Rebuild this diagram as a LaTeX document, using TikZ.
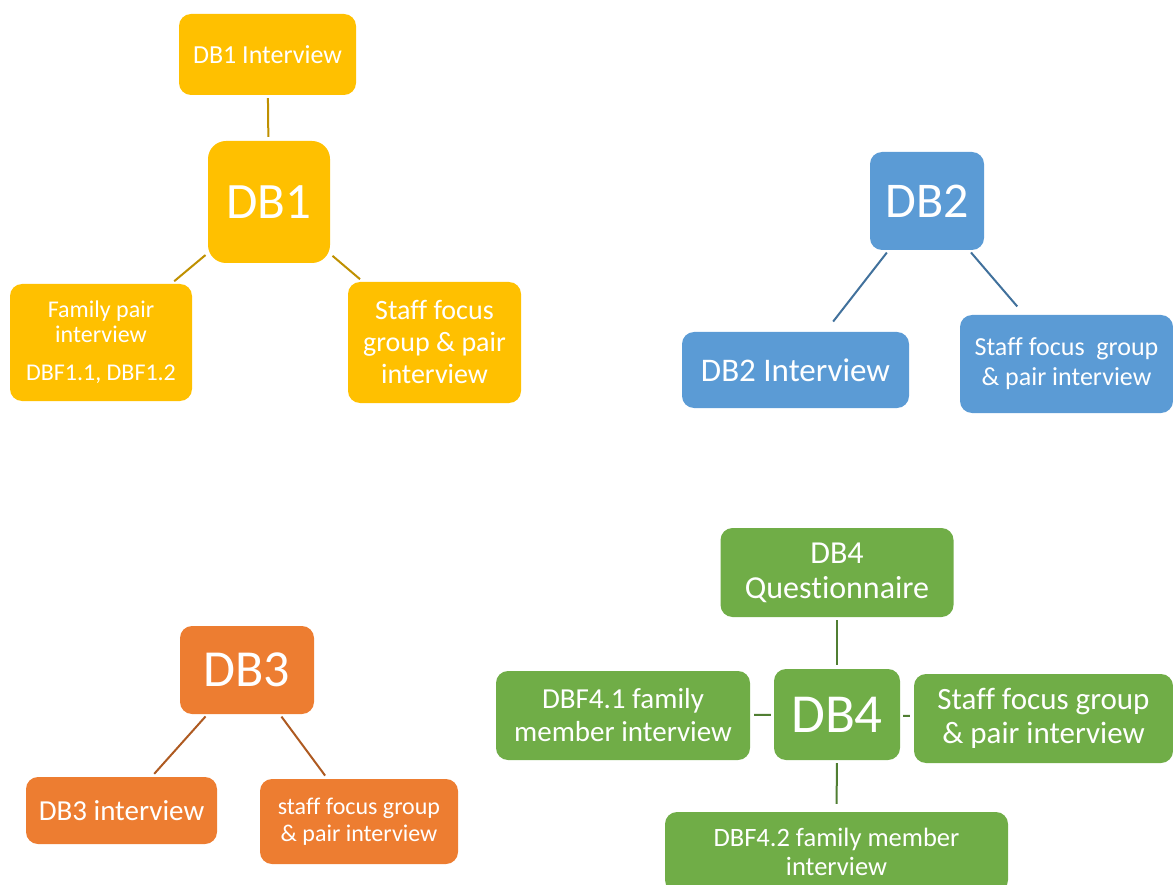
\documentclass[tikz,border=0pt]{standalone}
\usepackage{fontspec}
\setmainfont[Ligatures=NoCommon]{Carlito}
\definecolor{dbyellow}{HTML}{FFC000}
\definecolor{dbyellowln}{HTML}{BF9000}
\definecolor{dbblue}{HTML}{5B9BD5}
\definecolor{dbblueln}{HTML}{41719C}
\definecolor{dborange}{HTML}{ED7D31}
\definecolor{dborangeln}{HTML}{AE5A21}
\definecolor{dbgreen}{HTML}{70AD47}
\definecolor{dbgreenln}{HTML}{507E32}
\newcommand{\fsz}[2]{\fontsize{#1}{#2}\selectfont}
\tikzset{
  box/.style={rectangle, rounded corners=12pt, text=white, align=center, inner sep=0pt},
  link/.style={line width=2pt, shorten <=3pt, shorten >=4pt},
}
\begin{document}
\begin{tikzpicture}[x=1pt, y=-1pt]
  \useasboundingbox (0,0) rectangle (1173,885);
  % DB1
  \node[box, fill=dbyellow, minimum width=177pt, minimum height=81pt, font={\fsz{26}{31}}] (db1int) at (267.5,54.5) {DB1 Interview};
  \node[box, fill=dbyellow, rounded corners=18pt, minimum width=122pt, minimum height=122pt, font={\fsz{51}{60}}] (db1) at (269,202) {DB1};
  \node[box, fill=dbyellow, minimum width=182pt, minimum height=117pt, font={\fsz{24}{25}}] (db1fam) at (101,342.5) {Family pair\\interview\\[13pt]DBF1.1, DBF1.2};
  \node[box, fill=dbyellow, minimum width=173pt, minimum height=121pt, font={\fsz{28}{32}}] (db1staff) at (434.5,342.5) {Staff focus\\group \& pair\\interview};
  \draw[link, dbyellowln] (db1int) -- (db1);
  \draw[link, dbyellowln] (db1) -- (db1fam);
  \draw[link, dbyellowln] (db1) -- (db1staff);
  % DB2
  \node[box, fill=dbblue, minimum width=114pt, minimum height=98pt, font={\fsz{50}{60}}] (db2) at (927,201) {DB2};
  \node[box, fill=dbblue, minimum width=227pt, minimum height=76pt, font={\fsz{33}{40}}] (db2int) at (795.5,370) {DB2 Interview};
  \node[box, fill=dbblue, minimum width=213pt, minimum height=98pt, font={\fsz{26}{30}}] (db2staff) at (1066.5,364) {Staff focus\ \ group\\\& pair interview};
  \draw[link, dbblueln, shorten >=13pt] (db2) -- (db2int);
  \draw[link, dbblueln, shorten >=11pt] (db2) -- (db2staff);
  % DB3
  \node[box, fill=dborange, minimum width=134pt, minimum height=88pt, font={\fsz{52}{60}}] (db3) at (247,670) {DB3};
  \node[box, fill=dborange, minimum width=191pt, minimum height=67pt, font={\fsz{29}{34}}] (db3int) at (121.5,810.5) {DB3 interview};
  \node[box, fill=dborange, minimum width=198pt, minimum height=85pt, font={\fsz{24}{27}}] (db3staff) at (359,821.5) {staff focus group\\\& pair interview};
  \draw[link, dborangeln] (db3) -- (db3int);
  \draw[link, dborangeln] (db3) -- (db3staff);
  % DB4
  \node[box, fill=dbgreen, minimum width=233pt, minimum height=89pt, font={\fsz{32}{35}}] (db4q) at (837,572.5) {DB4\\Questionnaire};
  \node[box, fill=dbgreen, minimum width=126pt, minimum height=91pt, font={\fsz{55}{60}}] (db4) at (837,714.5) {DB4};
  \node[box, fill=dbgreen, minimum width=254pt, minimum height=89pt, font={\fsz{29}{33}}] (db4fam1) at (623,715.5) {DBF4.1 family\\member interview};
  \node[box, fill=dbgreen, minimum width=259pt, minimum height=89pt, font={\fsz{31}{34}}] (db4staff) at (1043.5,718.5) {Staff focus group\\\& pair interview};
  \node[box, fill=dbgreen, minimum width=343pt, minimum height=80pt, font={\fsz{26.5}{29}}] (db4fam2) at (836.5,852) {DBF4.2 family member\\interview};
  \draw[link, dbgreenln] (db4q) -- (db4);
  \draw[link, dbgreenln] (db4) -- (db4fam1);
  \draw[link, dbgreenln] (db4) -- (db4staff);
  \draw[link, dbgreenln, shorten >=8pt] (db4) -- (db4fam2);
\end{tikzpicture}
\end{document}
